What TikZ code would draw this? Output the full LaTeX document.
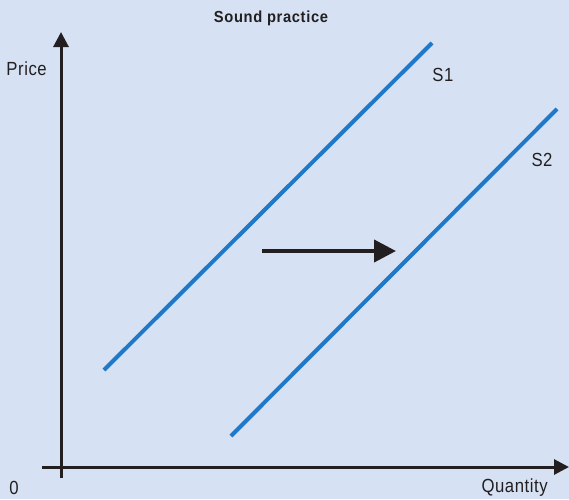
\documentclass[tikz,border=0pt]{standalone}
\usepackage{fontspec}
\setmainfont{Liberation Sans}
\newfontfamily\condfont[FakeStretch=0.88,LetterSpace=3]{Liberation Sans}
\usetikzlibrary{arrows.meta}
\definecolor{bg}{HTML}{D6E2F3}
\definecolor{supply}{HTML}{1F78C8}
\definecolor{ink}{HTML}{231F20}
\begin{document}
\begin{tikzpicture}[x=1pt,y=-1pt,
  axis/.style={draw=ink,line width=3pt,-{Triangle[length=15pt,width=15pt]}},
  curve/.style={draw=supply,line width=4pt},
  shift arrow/.style={draw=ink,line width=4pt,-{Triangle[length=22pt,width=22pt]}},
  lbl/.style={text=ink,font=\condfont\fontsize{19}{21}\selectfont,inner sep=0pt},
  ttl/.style={text=ink,font=\bfseries\fontsize{16}{18}\selectfont,inner sep=0pt}]
\fill[bg] (0,0) rectangle (569,499);
\useasboundingbox (0,0) rectangle (569,499);
\coordinate (ybot) at (61,478);
\coordinate (ytop) at (61,32);
\coordinate (xl) at (42,467);
\coordinate (xr) at (569,467);
\draw[axis] (ybot) -- (ytop);
\draw[axis] (xl) -- (xr);
\coordinate (s1a) at (104,370);
\coordinate (s1b) at (432,43);
\coordinate (s2a) at (231,436);
\coordinate (s2b) at (557,109);
\draw[curve] (s1a) -- (s1b);
\draw[curve] (s2a) -- (s2b);
\coordinate (aa) at (262,251);
\coordinate (ab) at (396,251);
\draw[shift arrow] (aa) -- (ab);
\node[ttl] (title) at (271,18) {\addfontfeature{FakeStretch=0.92,LetterSpace=4}Sound practice};
\node[lbl,anchor=east] (price) at (47,69) {Price};
\node[lbl] (zero) at (14,488) {0};
\node[lbl,anchor=east] (qty) at (548,488) {Quantity};
\node[lbl] (s1) at (443,75) {S1};
\node[lbl] (s2) at (542,160) {S2};
\end{tikzpicture}
\end{document}
